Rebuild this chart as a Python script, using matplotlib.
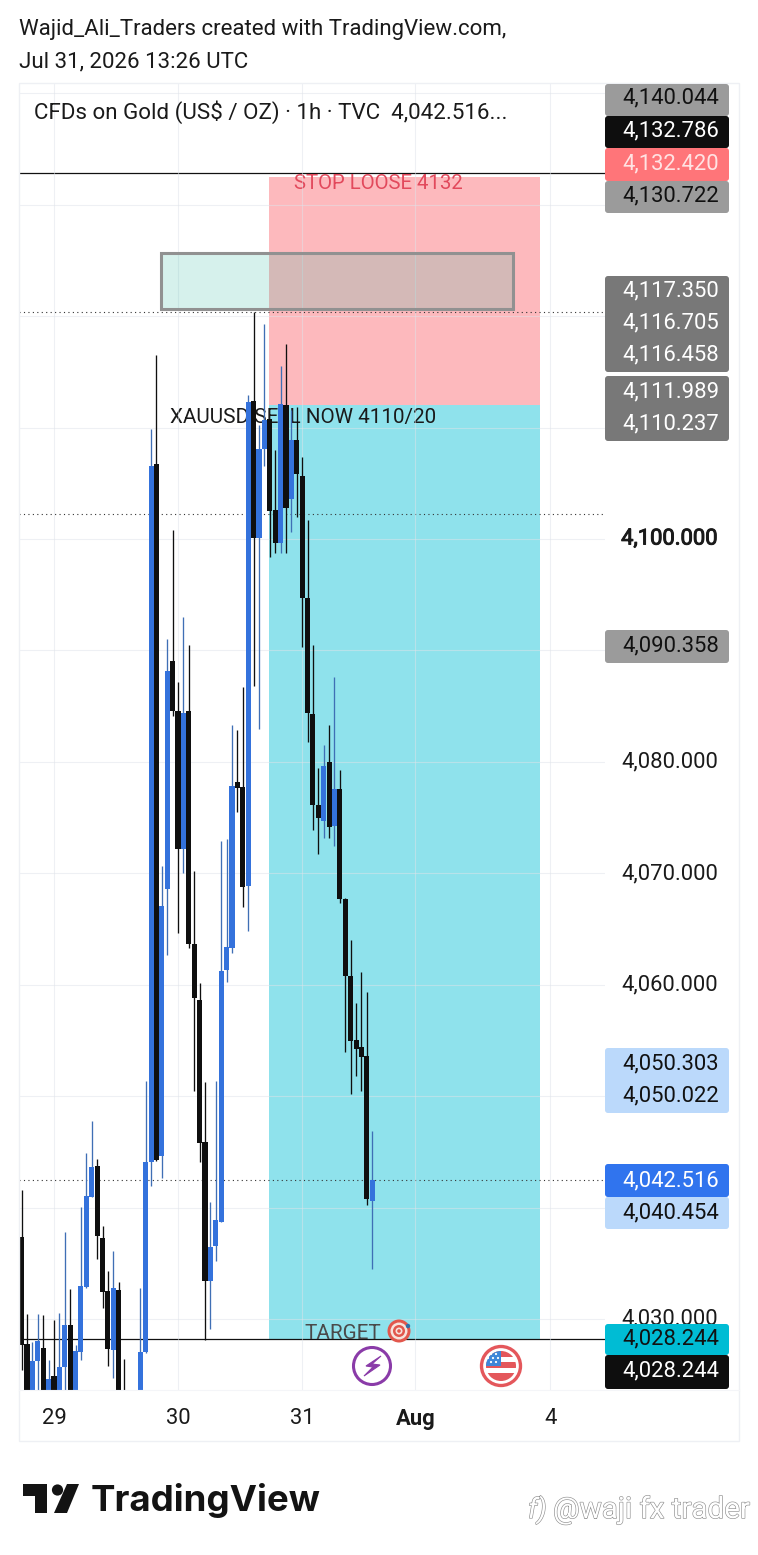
import matplotlib
matplotlib.use('Agg')
import matplotlib.pyplot as plt
from matplotlib.patches import Rectangle, Circle, Polygon, FancyBboxPatch
import matplotlib.patheffects as pe

plt.rcParams['font.family'] = ['Roboto', 'DejaVu Sans']
plt.rcParams['ytick.alignment'] = 'center'

# candles, one value per hourly bar
opens = [4037.39, 4027.80, 4021.00, 4026.27, 4027.44, 4021.00, 4024.93, 4021.00, 4025.73, 4029.50,
         4021.00, 4027.08, 4032.91, 4040.98, 4043.76, 4037.30, 4032.55, 4027.26, 4032.64, 4022.50,
         4020.00, 4020.00, 4021.00, 4027.08, 4044.12, 4106.72, 4044.66, 4068.61, 4089.05, 4084.57,
         4072.19, 4084.57, 4063.67, 4058.65, 4045.91, 4033.45, 4036.59, 4038.74, 4061.34, 4063.31,
         4078.20, 4077.75, 4068.87, 4112.37, 4100.09, 4108.07, 4110.76, 4102.60, 4099.64, 4112.02,
         4103.58, 4108.88, 4105.65, 4094.71, 4084.30, 4076.14, 4074.70, 4080.00, 4074.26, 4077.57,
         4067.71, 4060.80, 4055.06, 4054.43, 4053.63, 4040.62]
closes = [4027.71, 4021.00, 4026.27, 4028.07, 4021.00, 4024.66, 4021.00, 4025.73, 4029.50, 4021.00,
          4027.17, 4033.00, 4041.07, 4043.67, 4037.48, 4032.46, 4027.35, 4032.82, 4021.00, 4021.00,
          4019.50, 4019.50, 4027.08, 4044.12, 4106.54, 4044.30, 4067.08, 4088.16, 4084.57, 4072.19,
          4084.39, 4063.67, 4058.83, 4045.82, 4033.45, 4036.50, 4038.92, 4061.25, 4063.40, 4077.84,
          4077.66, 4068.78, 4112.28, 4100.09, 4108.07, 4110.67, 4102.51, 4099.64, 4112.11, 4102.78,
          4108.88, 4105.83, 4094.71, 4084.39, 4076.14, 4074.97, 4079.64, 4074.17, 4077.57, 4067.71,
          4060.80, 4054.97, 4054.25, 4053.54, 4040.80, 4042.516]
highs = [4041.61, 4030.49, 4027.98, 4030.49, 4030.40, 4026.36, 4029.95, 4030.58, 4037.84, 4032.73,
         4027.71, 4040.08, 4044.93, 4047.80, 4044.39, 4038.38, 4034.35, 4036.14, 4033.36, 4026.45,
         4020.00, 4020.00, 4032.82, 4051.39, 4109.86, 4116.50, 4070.67, 4091.03, 4100.80, 4087.17,
         4093.00, 4090.49, 4070.22, 4060.17, 4051.30, 4040.53, 4051.39, 4072.91, 4073.09, 4083.31,
         4082.87, 4086.72, 4112.91, 4120.36, 4110.22, 4119.28, 4110.76, 4107.98, 4115.51, 4117.49,
         4111.57, 4111.84, 4107.35, 4101.70, 4090.49, 4079.46, 4081.52, 4083.31, 4087.62, 4079.28,
         4067.80, 4064.03, 4058.38, 4061.16, 4059.37, 4046.90]
lows = [4025.46, 4020.00, 4020.00, 4023.67, 4020.00, 4020.00, 4020.00, 4020.00, 4023.67, 4020.00,
        4020.00, 4026.36, 4032.82, 4040.98, 4035.42, 4031.03, 4025.82, 4024.75, 4020.00, 4018.00,
        4019.00, 4019.00, 4020.00, 4026.99, 4041.97, 4044.21, 4042.69, 4062.69, 4084.12, 4064.66,
        4070.04, 4063.31, 4050.49, 4044.12, 4028.16, 4029.14, 4035.24, 4038.74, 4060.26, 4062.87,
        4075.51, 4066.99, 4064.84, 4086.81, 4082.96, 4106.54, 4098.38, 4098.74, 4098.74, 4098.74,
        4100.62, 4101.97, 4090.31, 4081.79, 4073.90, 4071.75, 4073.18, 4073.18, 4072.46, 4067.35,
        4053.99, 4050.22, 4051.83, 4050.49, 4040.26, 4034.52]

date_pos = [6, 29, 52, 73, 98]
date_labels = ['29', '30', '31', 'Aug', '4']
grid_prices = [4030, 4040, 4050, 4060, 4070, 4080, 4090, 4100, 4110, 4120, 4130, 4140]
grid_labels = ['4,030.000', '', '', '4,060.000', '4,070.000', '4,080.000', '', '4,100.000', '', '', '', '']

stop_price = 4132.5
entry_price = 4112.0
target_price = 4028.244
pos_left, pos_right = 45.86, 96.09
zone_left, zone_right = 25.84, 91.08
zone_low, zone_high = 4120.63, 4125.65
dotted_prices = [4120.36, 4102.2, 4042.516]
solid_prices = [4132.786, 4028.244]

# price label, text colour, centre y
badge_texts = [('4,140.044', '#111111', 98), ('4,132.786', '#ffffff', 131), ('4,132.420', '#ffe3e3', 164),
               ('4,130.722', '#111111', 196), ('4,117.350', '#ffffff', 291), ('4,116.705', '#ffffff', 323),
               ('4,116.458', '#ffffff', 355), ('4,111.989', '#ffffff', 392), ('4,110.237', '#ffffff', 424),
               ('4,090.358', '#111111', 646), ('4,050.303', '#111111', 1064), ('4,050.022', '#111111', 1096),
               ('4,042.516', '#ffffff', 1181), ('4,040.454', '#111111', 1213), ('4,028.244', '#111111', 1339),
               ('4,028.244', '#ffffff', 1371)]
# top, bottom, fill
badge_boxes = [(84, 116, '#9b9b9b'), (116, 148, '#0e0e0e'), (148, 181, '#ff7579'), (181, 213, '#9b9b9b'),
               (276, 372, '#787878'), (376, 441, '#787878'), (630, 663, '#9b9b9b'), (1048, 1113, '#bbd9fb'),
               (1164, 1197, '#3074ee'), (1197, 1229, '#bbd9fb'), (1324, 1355, '#00bcd4'), (1355, 1389, '#0e0e0e')]

W, H = 758, 1555
BLUE = '#3472dc'
BLACK = '#0f0f0f'
FS = 15.8

fig = plt.figure(figsize=(W / 100, H / 100), dpi=100, facecolor='white')
ax = fig.add_axes([19 / W, (H - 1390) / H, 586 / W, 1307 / H])
ax.set_xlim(-0.48, 108.14)
ax.set_ylim(4023.67, 4140.90)
for s in ax.spines.values():
    s.set_visible(False)

# position tool
ax.add_patch(Rectangle((pos_left, entry_price), pos_right - pos_left, stop_price - entry_price,
                       fc='#fdb9bd', ec='none', zorder=1))
ax.add_patch(Rectangle((pos_left, target_price), pos_right - pos_left, entry_price - target_price,
                       fc='#8fe2ec', ec='none', zorder=1))

ax.set_yticks(grid_prices)
ax.set_yticklabels(grid_labels, fontsize=FS, color='#1a1a1a')
ax.yaxis.tick_right()
ax.tick_params(axis='y', length=0, pad=11.6)
# the 4,100 label is only a touch heavier than the rest
ax.get_yticklabels()[7].set_path_effects([pe.withStroke(linewidth=0.7, foreground='#1a1a1a')])
ax.set_xticks(date_pos)
ax.set_xticklabels(date_labels, fontsize=FS, color='#1a1a1a')
ax.tick_params(axis='x', length=0, pad=12.7)
ax.get_xticklabels()[3].set_fontweight('bold')
ax.grid(True, color='#dfe3ea', lw=0.8, alpha=0.5, zorder=1.5)
ax.set_axisbelow(False)
for g in ax.get_xgridlines() + ax.get_ygridlines():
    g.set_zorder(1.5)

for p in dotted_prices:
    ax.axhline(p, color='#333333', lw=0.8, ls=(0, (1, 3)), zorder=2)
for p in solid_prices:
    ax.axhline(p, color='#111111', lw=0.9, zorder=2)

ax.text(50.5, 4131.9, 'STOP LOOSE 4132', color='#e2495c', fontsize=14.7, va='center', zorder=2.5)
ax.text(27.5, 4110.9, 'XAUUSD SELL NOW 4110/20', color='#1a1a1a', fontsize=14.9, va='center', zorder=2.5)
ax.text(52.5, 4028.75, 'TARGET', color='#4a4a4a', fontsize=14.9, va='center', zorder=2.5)

# candles, later ones sit on top of earlier ones
for i in range(len(opens)):
    up = closes[i] >= opens[i]
    z = 3 + i * 0.01
    ax.vlines(i, lows[i], highs[i], color='#3f6fb5' if up else BLACK, lw=0.95, zorder=z)
    ax.bar(i, abs(closes[i] - opens[i]), bottom=min(opens[i], closes[i]), width=0.95,
           color=BLUE if up else BLACK, lw=0, zorder=z)

# rectangle drawing over the candles
ax.add_patch(Rectangle((zone_left, zone_low), zone_right - zone_left, zone_high - zone_low,
                       fc=(50 / 255, 185 / 255, 160 / 255, 0.2), ec='#919191', lw=2.2, zorder=4))

# everything below here is page furniture, in pixels
over = fig.add_axes([0, 0, 1, 1], facecolor='none')
over.set_xlim(0, W)
over.set_ylim(H, 0)
over.axis('off')

over.add_patch(Rectangle((19, 83), 720, 1358, fc='none', ec='#eef0f4', lw=1))
over.plot([19, 739], [1390, 1390], color='#f4f5f8', lw=0.8)

over.text(19, 30, 'Wajid_Ali_Traders created with TradingView.com,', fontsize=16.0, color='#1a1a1a', va='center')
over.text(19, 62, 'Jul 31, 2026 13:26 UTC', fontsize=16.0, color='#1a1a1a', va='center')
over.text(34, 112, 'CFDs on Gold (US$ / OZ) · 1h · TVC  4,042.516...', fontsize=16.15, color='#1a1a1a', va='center')

for top, bottom, col in badge_boxes:
    over.add_patch(FancyBboxPatch((606, top + 1), 122, bottom - top - 2, boxstyle='round,pad=1,rounding_size=3',
                                  fc=col, ec='none'))
for label, col, yc in badge_texts:
    over.text(622, yc, label, color=col, fontsize=FS, va='center')

# target emoji
for r, col in [(11.5, '#e2574c'), (8.5, '#f6e3dc'), (6, '#e2574c'), (3.5, '#f6e3dc'), (1.8, '#e2574c')]:
    over.add_patch(Circle((399, 1331), r, fc=col, ec='none'))
over.add_patch(Circle((408, 1326), 2.2, fc='#2f6fa8', ec='none'))

# lightning marker
over.add_patch(Circle((372, 1366), 18.5, fc='white', ec='#8a3ba8', lw=2.2))
over.add_patch(Polygon([(381, 1356), (366, 1366), (373, 1367), (364, 1376), (380, 1365), (372, 1364)],
                       closed=True, fc='#8a3ba8', ec='#8a3ba8', lw=0.8))

# US news marker
over.add_patch(Circle((501, 1366), 19.5, fc='white', ec='#e4575b', lw=2.4))
clip = Circle((501, 1366), 15, transform=over.transData)
for top, h in [(1351, 6), (1362, 6), (1373, 9)]:
    st = over.add_patch(Rectangle((486, top), 30, h, fc='#e4575b', ec='none'))
    st.set_clip_path(clip)
cant = over.add_patch(Rectangle((486, 1351), 15, 15, fc='#3d86d8', ec='none'))
cant.set_clip_path(clip)
for dx, dy in [(491, 1354), (496, 1354), (488, 1358), (493, 1358), (498, 1358), (491, 1362), (496, 1362)]:
    over.add_patch(Circle((dx, dy), 1.1, fc='white', ec='none'))

# TradingView logo
over.add_patch(Polygon([(23, 1484), (47, 1484), (47, 1513), (35, 1513), (35, 1496), (23, 1496)], closed=True,
                       fc='#131313', ec='none'))
over.add_patch(Circle((57.5, 1490), 5.6, fc='#131313', ec='none'))
over.add_patch(Polygon([(67, 1484), (79, 1484), (67, 1513), (54, 1513)], closed=True, fc='#131313', ec='none'))
over.text(91, 1500, 'TradingView', fontsize=26.4, fontweight='bold', family=['Inter', 'DejaVu Sans'],
          color='#131313', va='center')

# watermark, thin grey outline on white
stroke = [pe.withStroke(linewidth=0.9, foreground='#8f8f8f')]
over.text(528, 1510, 'f)', fontsize=20, style='italic', color='white', va='center', path_effects=stroke)
over.text(553, 1510, '@waji fx trader', fontsize=21.3, color='white', va='center', path_effects=stroke)

fig.savefig('out.png', dpi=100)
